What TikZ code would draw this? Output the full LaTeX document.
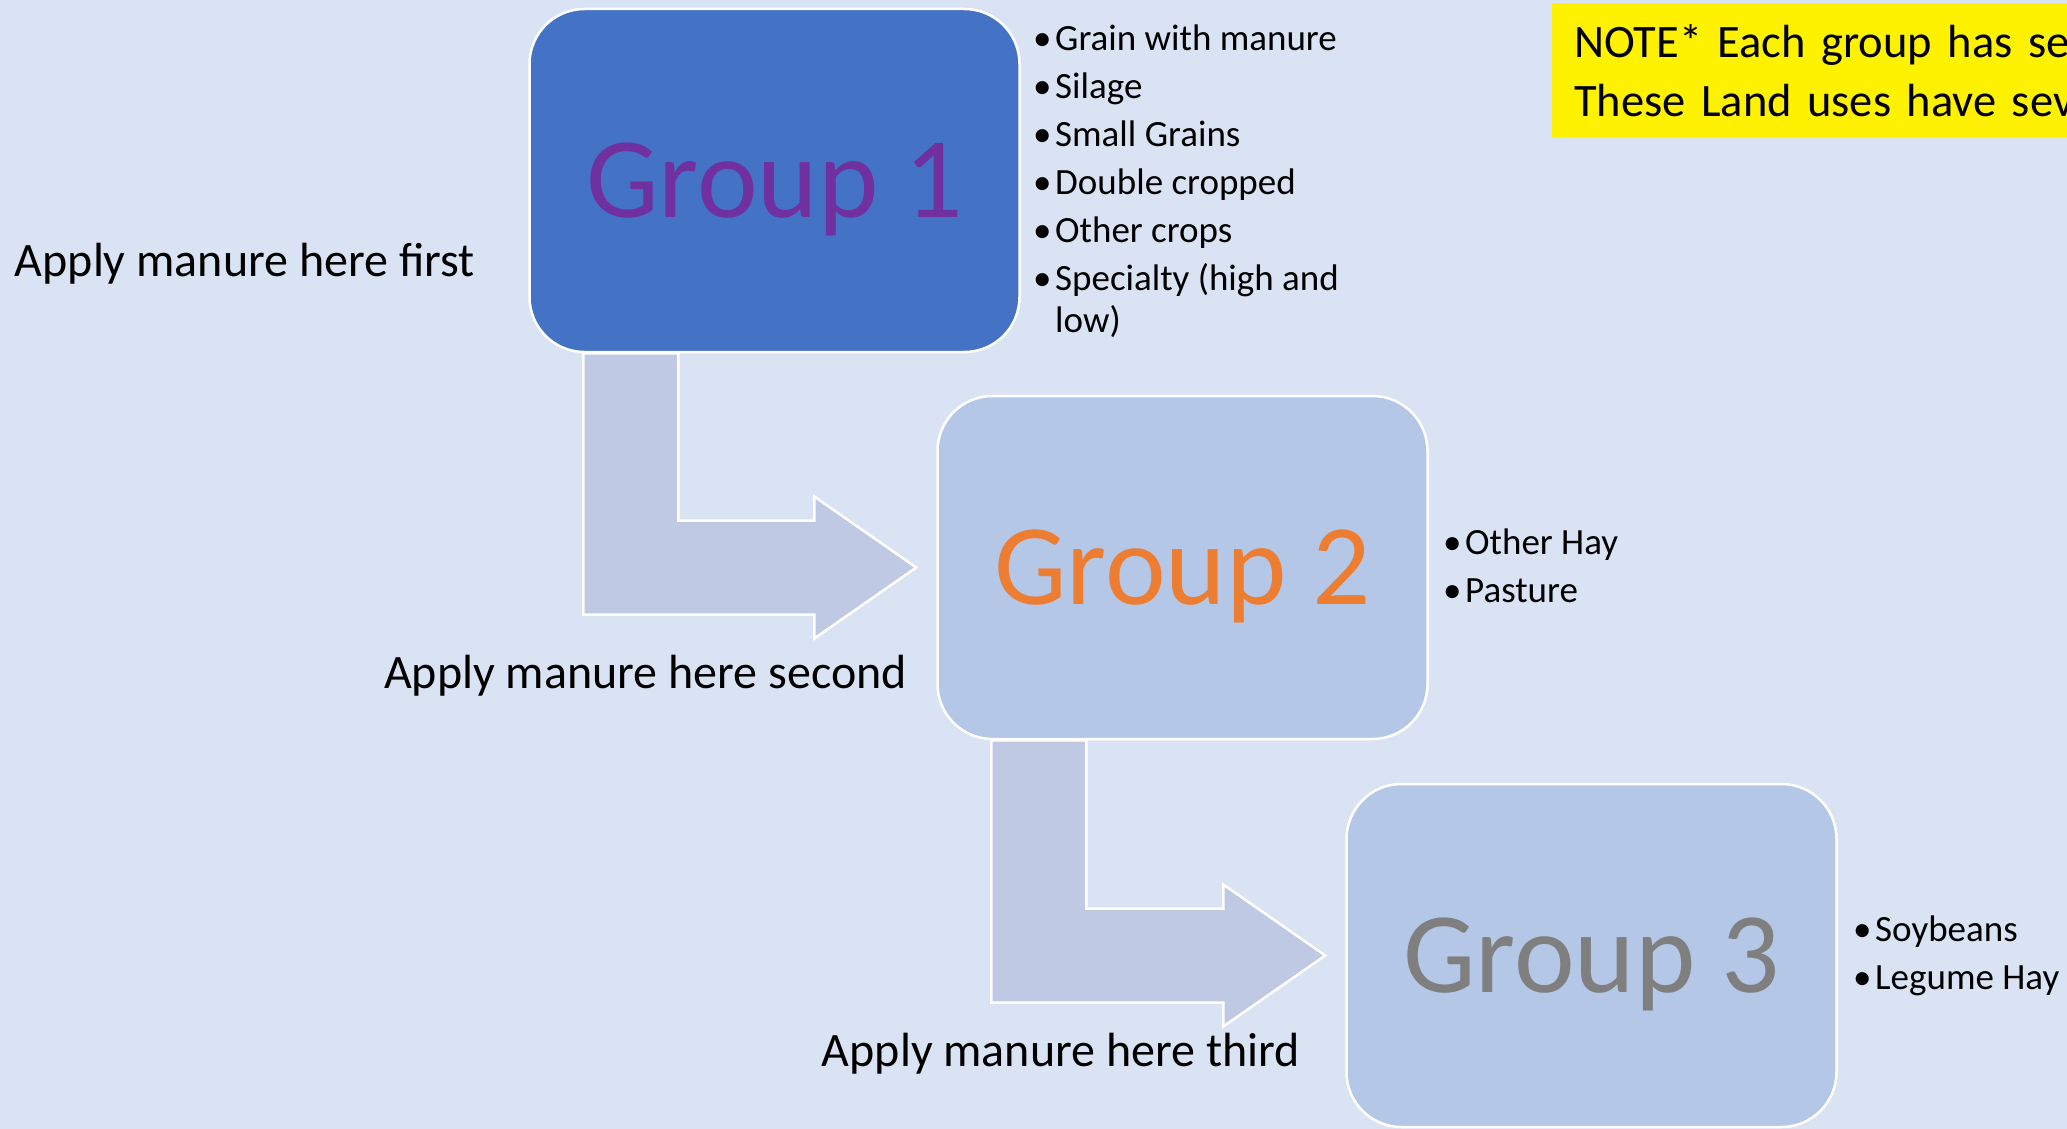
\documentclass[tikz,border=0pt]{standalone}
\usepackage{fontspec}
\setmainfont{Carlito}
\usetikzlibrary{calc}
\definecolor{pagebg}{HTML}{DAE3F3}
\definecolor{darkbox}{HTML}{4472C4}
\definecolor{lightbox}{HTML}{B4C7E7}
\definecolor{arrowfill}{HTML}{BFC9E3}
\definecolor{grouppurple}{HTML}{7030A0}
\definecolor{grouporange}{HTML}{ED7D31}
\definecolor{groupgrey}{HTML}{7F7F7F}
\newcommand{\bul}{\makebox[22pt][l]{\textbullet}}

\begin{document}
\begin{tikzpicture}[
  x = 1pt, y = -1pt,
  group/.style = {draw = white, line width = 2.5pt, rounded corners = 55pt,
                  minimum width = 490pt, minimum height = 343pt, text depth = 0pt,
                  font = \fontsize{115}{138}\selectfont},
  bendarrow/.style = {draw = white, line width = 2.5pt, fill = arrowfill},
  landuses/.style = {anchor = north west, inner sep = 0pt, align = left,
                     font = \fontsize{37}{42}\selectfont},
  order/.style = {anchor = east, inner sep = 0pt, font = \fontsize{48}{58}\selectfont},
  notebox/.style = {anchor = north west, fill = yellow, align = left, text width = 640pt,
                    inner xsep = 22pt, inner ysep = 0pt, minimum height = 135pt,
                    font = \fontsize{46.5}{59}\selectfont},
  ]
  \fill[pagebg] (0, 0) rectangle (2067, 1129);
  \useasboundingbox (0, 0) rectangle (2067, 1129);
  \clip (0, 0) rectangle (2067, 1129);

  \node[group, fill = darkbox, text = grouppurple] (group1) at (774.5, 180.5) {Group 1};
  \node[group, fill = lightbox, text = grouporange] (group2) at (1182.5, 567.5) {Group 2};
  \node[group, fill = lightbox, text = groupgrey] (group3) at (1591.5, 955.5) {Group 3};

  \foreach \a/\b in {group1/group2, group2/group3}
    \draw[bendarrow] let \p1 = (\a.south west), \p2 = (\b.west) in
      (\x1+55, \y1) -- (\x1+150, \y1) -- (\x1+150, \y2+47) -- (\x2-122, \y2+47)
      -- (\x2-122, \y2+71) -- (\x2-20, \y2) -- (\x2-122, \y2-71)
      -- (\x2-122, \y2-47) -- (\x1+55, \y2-47) -- cycle;

  \node[landuses] (uses1) at (1033, 25) {\bul Grain with manure\\[6pt] \bul Silage\\[6pt]
    \bul Small Grains\\[6pt] \bul Double cropped\\[6pt] \bul Other crops\\[6pt]
    \bul Specialty (high and\\ \hspace*{22pt}low)};
  \node[landuses] (uses2) at (1443, 529) {\bul Other Hay\\[6pt] \bul Pasture};
  \node[landuses] (uses3) at (1853, 916) {\bul Soybeans\\[6pt] \bul Legume Hay};

  \node[order] (first) at (475, 264) {Apply manure here first};
  \node[order] (second) at (907, 676) {Apply manure here second};
  \node[order] (third) at (1300, 1054) {Apply manure here third};

  \node[notebox] (note) at (1552, 3) {NOTE* Each group has sev\\These Land uses have sev};
\end{tikzpicture}
\end{document}
